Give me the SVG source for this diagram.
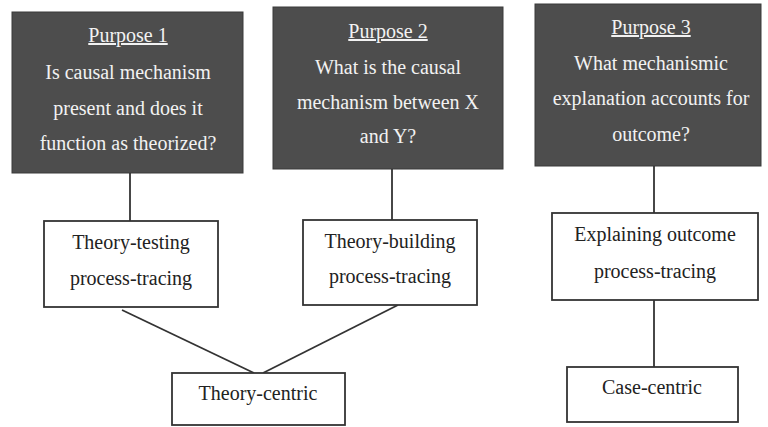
<svg xmlns="http://www.w3.org/2000/svg" width="768" height="427" viewBox="0 0 768 427">
<style>
.dark{fill:#4d4d4d;stroke:#3a3a3a;stroke-width:1}
.wt{fill:#f2f2f2;font-family:"Liberation Serif","Times New Roman",serif;font-size:20px;text-anchor:middle}
.u{text-decoration:underline}
.box{fill:#fff;stroke:#333;stroke-width:1.8}
.bt{fill:#222;font-family:"Liberation Serif","Times New Roman",serif;font-size:20px;text-anchor:middle}
.ln{stroke:#333;stroke-width:1.8;fill:none}
</style>
<rect width="768" height="427" fill="#fff"/>
<g id="purpose1">
<rect class="dark" x="12" y="12" width="231" height="161"/>
<text class="wt u" x="128" y="42">Purpose 1</text>
<text class="wt" x="128" y="79">Is causal mechanism</text>
<text class="wt" x="128" y="115">present and does it</text>
<text class="wt" x="128" y="150">function as theorized?</text>
</g>
<g id="purpose2">
<rect class="dark" x="273" y="7" width="230" height="162"/>
<text class="wt u" x="388" y="38">Purpose 2</text>
<text class="wt" x="388" y="74">What is the causal</text>
<text class="wt" x="388" y="109">mechanism between X</text>
<text class="wt" x="388" y="143">and Y?</text>
</g>
<g id="purpose3">
<rect class="dark" x="535" y="4" width="226" height="162"/>
<text class="wt u" x="651" y="34">Purpose 3</text>
<text class="wt" x="651" y="70">What mechanismic</text>
<text class="wt" x="651" y="105">explanation accounts for</text>
<text class="wt" x="651" y="141">outcome?</text>
</g>
<g id="connectors">
<line class="ln" x1="130" y1="173" x2="130" y2="221"/>
<line class="ln" x1="392" y1="169" x2="392" y2="220"/>
<line class="ln" x1="654" y1="166" x2="654" y2="213"/>
<line class="ln" x1="122" y1="310" x2="254" y2="373"/>
<line class="ln" x1="398" y1="305" x2="263" y2="373"/>
<line class="ln" x1="654" y1="300" x2="654" y2="367"/>
</g>
<g id="theory-testing">
<rect class="box" x="44" y="221" width="174" height="86"/>
<text class="bt" x="131" y="249">Theory-testing</text>
<text class="bt" x="131" y="285">process-tracing</text>
</g>
<g id="theory-building">
<rect class="box" x="303" y="220" width="174" height="85"/>
<text class="bt" x="390" y="248">Theory-building</text>
<text class="bt" x="390" y="283">process-tracing</text>
</g>
<g id="explaining-outcome">
<rect class="box" x="552" y="213" width="206" height="87"/>
<text class="bt" x="655" y="241">Explaining outcome</text>
<text class="bt" x="655" y="278">process-tracing</text>
</g>
<g id="theory-centric">
<rect class="box" x="172" y="373" width="173" height="52"/>
<text class="bt" x="258" y="400">Theory-centric</text>
</g>
<g id="case-centric">
<rect class="box" x="567" y="367" width="171" height="55"/>
<text class="bt" x="652" y="394">Case-centric</text>
</g>
</svg>
